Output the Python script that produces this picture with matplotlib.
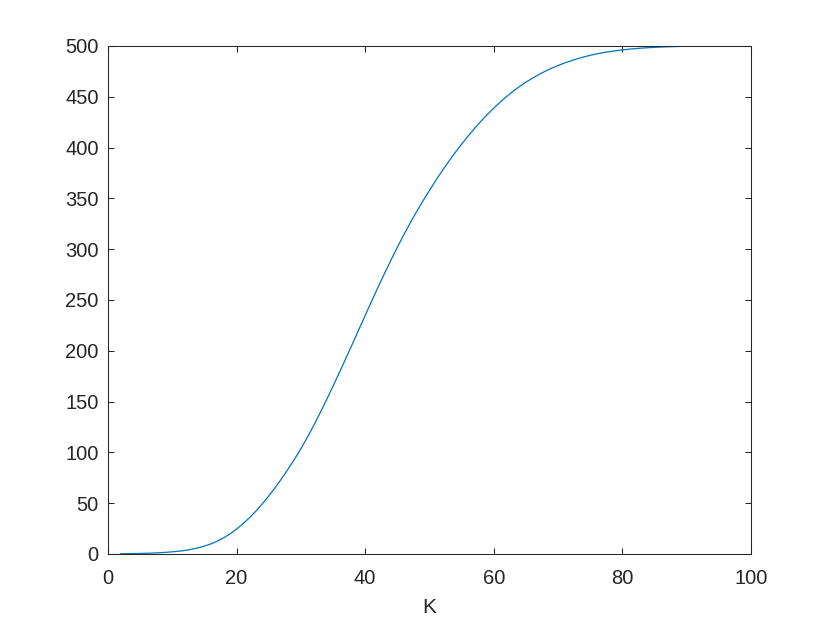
import matplotlib
matplotlib.use("Agg")
import matplotlib.pyplot as plt

plt.rcParams['font.family'] = ['Liberation Sans', 'DejaVu Sans']

K = list(range(2, 101))
values = [
    0.2, 0.3, 0.4, 0.5, 0.7, 0.9, 1.2, 1.6, 2.1,                          # 2-10
    2.7, 3.5, 4.6, 6.0, 7.7, 9.9, 12.6, 15.9, 19.8, 24.4,                 # 11-20
    29.7, 35.6, 42.1, 49.2, 56.9, 65.2, 74.0, 83.3, 93.1, 103.4,          # 21-30
    114.6, 126.4, 138.8, 151.7, 165.0, 178.6, 192.4, 206.4, 220.5, 234.6, # 31-40
    248.6, 262.4, 275.9, 289.0, 301.7, 313.9, 325.6, 336.8, 347.5, 357.8, # 41-50
    367.7, 377.2, 386.3, 395.0, 403.3, 411.2, 418.7, 425.8, 432.5, 438.8, # 51-60
    444.7, 450.2, 455.3, 460.0, 464.3, 468.2, 471.8, 475.1, 478.1, 480.8, # 61-70
    483.2, 485.4, 487.4, 489.2, 490.8, 492.2, 493.4, 494.4, 495.3, 496.1, # 71-80
    496.8, 497.4, 497.9, 498.3, 498.65, 498.95, 499.2, 499.4, 499.55, 499.67,  # 81-90
    499.76, 499.83, 499.88, 499.92, 499.95, 499.97, 499.98, 499.99, 500.0, 500.0,  # 91-100
]

xticks = [0, 20, 40, 60, 80, 100]
yticks = [0, 50, 100, 150, 200, 250, 300, 350, 400, 450, 500]
xlabel = 'K'

axcol = '#262626'
fig = plt.figure(figsize=(8.30, 6.23), dpi=100)
ax = fig.add_axes([0.130, 0.1108, 0.7747, 0.8154])
ax.plot(K, values, color='#0072BD', linewidth=0.9)
ax.set_xlim(0, 100)
ax.set_ylim(0, 500)
ax.set_xticks(xticks)
ax.set_yticks(yticks)
ax.tick_params(direction='in', length=4.6, width=0.75, colors=axcol,
               top=True, right=True, labelsize=14.5)
ax.tick_params(axis='x', pad=11)
ax.tick_params(axis='y', pad=6.5)
for s in ax.spines.values():
    s.set_color(axcol)
    s.set_linewidth(0.75)
ax.set_xlabel(xlabel, fontsize=15, color=axcol, labelpad=7)
fig.savefig('out.png', dpi=100)
